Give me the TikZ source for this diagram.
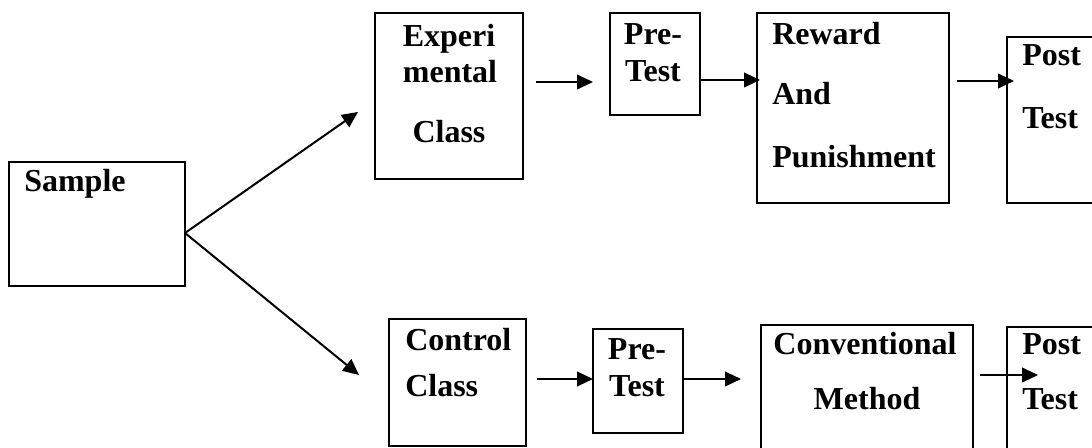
\documentclass[tikz,border=0pt]{standalone}
\usepackage{fontspec}
\setmainfont{Liberation Serif}
\usetikzlibrary{arrows.meta,fit}
\begin{document}
\begin{tikzpicture}[x=0.75pt,y=-0.75pt,
  box/.style={draw,line width=1.5pt,inner sep=0pt},
  lbl/.style={inner sep=0pt,font=\fontsize{24}{28}\selectfont\bfseries},
  arr/.style={line width=1.5pt,-{Triangle[length=12pt,width=11pt]}}]
\useasboundingbox (0,0) rectangle (1092,448);
\clip (0,0) rectangle (1092,448);
% boxes
\node[box,fit={(9,162)(185,286)}] (sample) {};
\node[box,fit={(375,13)(523,179)}] (exp) {};
\node[box,fit={(610,13)(700,115)}] (pre1) {};
\node[box,fit={(757,13)(949,203)}] (rew) {};
\node[box,fit={(1007,37)(1110,203)}] (post1) {};
\node[box,fit={(389,319)(526,446)}] (ctrl) {};
\node[box,fit={(593,329)(683,433)}] (pre2) {};
\node[box,fit={(761,325)(973,460)}] (conv) {};
\node[box,fit={(1007,327)(1110,460)}] (post2) {};
% texts
\node[lbl,anchor=base west] (tsample) at (24,192) {Sample};
\node[lbl,anchor=base] (texp1) at (449,47) {Experi};
\node[lbl,anchor=base] (texp2) at (450,83) {mental};
\node[lbl,anchor=base] (texp3) at (449,143) {Class};
\node[lbl,anchor=base] (tpre1a) at (653,45) {Pre-};
\node[lbl,anchor=base] (tpre1b) at (653,82) {Test};
\node[lbl,anchor=base west] (trew1) at (772,45) {Reward};
\node[lbl,anchor=base west] (trew2) at (772,105) {And};
\node[lbl,anchor=base west] (trew3) at (772,168) {Punishment};
\node[lbl,anchor=base west] (tpost1a) at (1022,66) {Post};
\node[lbl,anchor=base west] (tpost1b) at (1022,129) {Test};
\node[lbl,anchor=base west] (tctrl1) at (405,351) {Control};
\node[lbl,anchor=base west] (tctrl2) at (405,397) {Class};
\node[lbl,anchor=base] (tpre2a) at (637,360) {Pre-};
\node[lbl,anchor=base] (tpre2b) at (637,397) {Test};
\node[lbl,anchor=base] (tconv1) at (865,355) {Conventional};
\node[lbl,anchor=base] (tconv2) at (867,410) {Method};
\node[lbl,anchor=base west] (tpost2a) at (1022,355) {Post};
\node[lbl,anchor=base west] (tpost2b) at (1022,410) {Test};
% connector end points
\coordinate (fork) at (185,233);
\coordinate (upTip) at (358,112);
\coordinate (dnTip) at (359,375);
\coordinate (a1s) at (536,82);  \coordinate (a1e) at (593,82);
\coordinate (a2s) at (700,80);  \coordinate (a2e) at (760,80);
\coordinate (a3s) at (957,81);  \coordinate (a3e) at (1014,81);
\coordinate (b1s) at (537,379); \coordinate (b1e) at (593,379);
\coordinate (b2s) at (683,379); \coordinate (b2e) at (741,379);
\coordinate (b3s) at (980,375); \coordinate (b3e) at (1038,375);
% connectors
\draw[arr] (fork) -- (upTip);
\draw[arr] (fork) -- (dnTip);
\draw[arr] (a1s) -- (a1e);
\draw[arr] (a2s) -- (a2e);
\draw[arr] (a3s) -- (a3e);
\draw[arr] (b1s) -- (b1e);
\draw[arr] (b2s) -- (b2e);
\draw[arr] (b3s) -- (b3e);
\end{tikzpicture}
\end{document}
